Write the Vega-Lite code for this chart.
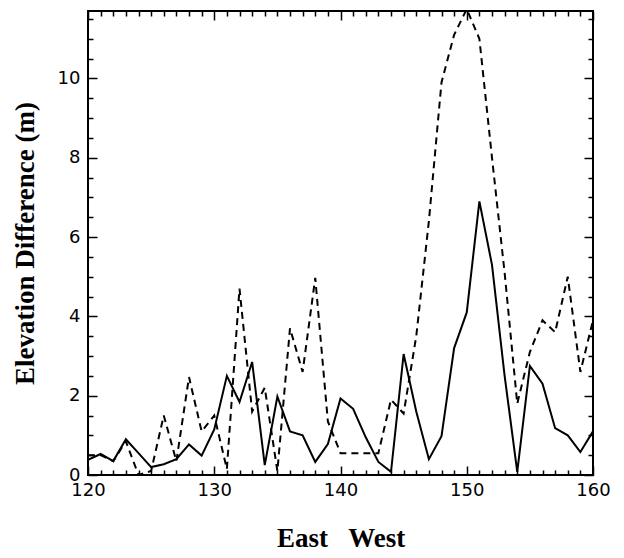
{
  "$schema": "https://vega.github.io/schema/vega-lite/v6.json",
  "width": 505,
  "height": 464,
  "autosize": {"type": "none"},
  "padding": {"left": 88, "top": 11, "right": 31, "bottom": 83},
  "background": "white",
  "config": {
    "view": {"stroke": "black", "strokeWidth": 2},
    "axis": {
      "domain": false,
      "grid": false,
      "ticks": true,
      "tickSize": 9,
      "offset": -9,
      "tickColor": "black",
      "tickOpacity": 1,
      "tickWidth": 1.5,
      "labelFont": "DejaVu Sans",
      "labelFontSize": 18,
      "labelColor": "black",
      "titleFont": "Liberation Serif",
      "titleFontWeight": "bold",
      "titleFontSize": 27,
      "titleColor": "black",
      "labelOverlap": false,
      "labelFlush": false
    }
  },
  "data": {
    "values": [
      {"x": 120, "y": 0.5, "series": "dashed"},
      {"x": 121, "y": 0.5, "series": "dashed"},
      {"x": 122, "y": 0.35, "series": "dashed"},
      {"x": 123, "y": 0.85, "series": "dashed"},
      {"x": 124, "y": 0.0, "series": "dashed"},
      {"x": 125, "y": 0.1, "series": "dashed"},
      {"x": 126, "y": 1.5, "series": "dashed"},
      {"x": 127, "y": 0.35, "series": "dashed"},
      {"x": 128, "y": 2.47, "series": "dashed"},
      {"x": 129, "y": 1.1, "series": "dashed"},
      {"x": 130, "y": 1.5, "series": "dashed"},
      {"x": 131, "y": 0.15, "series": "dashed"},
      {"x": 132, "y": 4.7, "series": "dashed"},
      {"x": 133, "y": 1.6, "series": "dashed"},
      {"x": 134, "y": 2.2, "series": "dashed"},
      {"x": 135, "y": 0.1, "series": "dashed"},
      {"x": 136, "y": 3.7, "series": "dashed"},
      {"x": 137, "y": 2.6, "series": "dashed"},
      {"x": 138, "y": 4.97, "series": "dashed"},
      {"x": 139, "y": 1.35, "series": "dashed"},
      {"x": 140, "y": 0.55, "series": "dashed"},
      {"x": 141, "y": 0.55, "series": "dashed"},
      {"x": 142, "y": 0.55, "series": "dashed"},
      {"x": 143, "y": 0.55, "series": "dashed"},
      {"x": 144, "y": 1.9, "series": "dashed"},
      {"x": 145, "y": 1.55, "series": "dashed"},
      {"x": 146, "y": 3.5, "series": "dashed"},
      {"x": 147, "y": 6.4, "series": "dashed"},
      {"x": 148, "y": 9.9, "series": "dashed"},
      {"x": 149, "y": 11.1, "series": "dashed"},
      {"x": 150, "y": 11.75, "series": "dashed"},
      {"x": 151, "y": 11.0, "series": "dashed"},
      {"x": 152, "y": 8.0, "series": "dashed"},
      {"x": 153, "y": 5.1, "series": "dashed"},
      {"x": 154, "y": 1.8, "series": "dashed"},
      {"x": 155, "y": 3.1, "series": "dashed"},
      {"x": 156, "y": 3.9, "series": "dashed"},
      {"x": 157, "y": 3.6, "series": "dashed"},
      {"x": 158, "y": 5.0, "series": "dashed"},
      {"x": 159, "y": 2.6, "series": "dashed"},
      {"x": 160, "y": 3.9, "series": "dashed"},
      {"x": 120, "y": 0.38, "series": "solid"},
      {"x": 121, "y": 0.53, "series": "solid"},
      {"x": 122, "y": 0.35, "series": "solid"},
      {"x": 123, "y": 0.9, "series": "solid"},
      {"x": 124, "y": 0.55, "series": "solid"},
      {"x": 125, "y": 0.2, "series": "solid"},
      {"x": 126, "y": 0.27, "series": "solid"},
      {"x": 127, "y": 0.4, "series": "solid"},
      {"x": 128, "y": 0.77, "series": "solid"},
      {"x": 129, "y": 0.49, "series": "solid"},
      {"x": 130, "y": 1.15, "series": "solid"},
      {"x": 131, "y": 2.5, "series": "solid"},
      {"x": 132, "y": 1.84, "series": "solid"},
      {"x": 133, "y": 2.85, "series": "solid"},
      {"x": 134, "y": 0.25, "series": "solid"},
      {"x": 135, "y": 1.98, "series": "solid"},
      {"x": 136, "y": 1.1, "series": "solid"},
      {"x": 137, "y": 1.0, "series": "solid"},
      {"x": 138, "y": 0.33, "series": "solid"},
      {"x": 139, "y": 0.78, "series": "solid"},
      {"x": 140, "y": 1.93, "series": "solid"},
      {"x": 141, "y": 1.67, "series": "solid"},
      {"x": 142, "y": 0.95, "series": "solid"},
      {"x": 143, "y": 0.33, "series": "solid"},
      {"x": 144, "y": 0.08, "series": "solid"},
      {"x": 145, "y": 3.05, "series": "solid"},
      {"x": 146, "y": 1.6, "series": "solid"},
      {"x": 147, "y": 0.4, "series": "solid"},
      {"x": 148, "y": 0.98, "series": "solid"},
      {"x": 149, "y": 3.2, "series": "solid"},
      {"x": 150, "y": 4.1, "series": "solid"},
      {"x": 151, "y": 6.9, "series": "solid"},
      {"x": 152, "y": 5.3, "series": "solid"},
      {"x": 153, "y": 2.5, "series": "solid"},
      {"x": 154, "y": 0.08, "series": "solid"},
      {"x": 155, "y": 2.75, "series": "solid"},
      {"x": 156, "y": 2.3, "series": "solid"},
      {"x": 157, "y": 1.18, "series": "solid"},
      {"x": 158, "y": 1.0, "series": "solid"},
      {"x": 159, "y": 0.58, "series": "solid"},
      {"x": 160, "y": 1.1, "series": "solid"}
    ]
  },
  "layer": [
    {
      "transform": [{"filter": "datum.series === 'dashed'"}],
      "mark": {"type": "line", "color": "black", "strokeWidth": 2, "strokeDash": [7, 5], "clip": true},
      "encoding": {
        "x": {
          "field": "x", "type": "quantitative",
          "scale": {"domain": [120, 160], "nice": false, "zero": false},
          "axis": {
            "orient": "bottom",
            "title": "East\u00a0\u00a0\u00a0West",
            "values": [120,121,122,123,124,125,126,127,128,129,130,131,132,133,134,135,136,137,138,139,140,141,142,143,144,145,146,147,148,149,150,151,152,153,154,155,156,157,158,159,160],
            "labelExpr": "datum.value % 10 === 0 ? format(datum.value, 'd') : ''",
            "tickDash": {"condition": {"test": "datum.value % 10 === 0", "value": [20, 1]}, "value": [0, 4, 5, 30]},
            "labelPadding": 6,
            "titlePadding": 26
          }
        },
        "y": {
          "field": "y", "type": "quantitative",
          "scale": {"domain": [0, 11.7], "nice": false},
          "axis": {
            "orient": "left",
            "title": "Elevation Difference (m)",
            "values": [0,0.5,1,1.5,2,2.5,3,3.5,4,4.5,5,5.5,6,6.5,7,7.5,8,8.5,9,9.5,10,10.5,11,11.5],
            "labelExpr": "datum.value % 2 === 0 ? format(datum.value, 'd') : ''",
            "tickDash": {"condition": {"test": "datum.value % 2 === 0", "value": [20, 1]}, "value": [0, 4, 5, 30]},
            "labelPadding": 8,
            "titlePadding": 18
          }
        }
      }
    },
    {
      "transform": [{"filter": "datum.series === 'solid'"}],
      "mark": {"type": "line", "color": "black", "strokeWidth": 2, "clip": true},
      "encoding": {
        "x": {
          "field": "x", "type": "quantitative",
          "axis": {
            "orient": "top",
            "title": null,
            "labels": false,
            "values": [120,121,122,123,124,125,126,127,128,129,130,131,132,133,134,135,136,137,138,139,140,141,142,143,144,145,146,147,148,149,150,151,152,153,154,155,156,157,158,159,160],
            "tickDash": {"condition": {"test": "datum.value % 10 === 0", "value": [20, 1]}, "value": [0, 4, 5, 30]}
          }
        },
        "y": {
          "field": "y", "type": "quantitative",
          "axis": {
            "orient": "right",
            "title": null,
            "labels": false,
            "values": [0,0.5,1,1.5,2,2.5,3,3.5,4,4.5,5,5.5,6,6.5,7,7.5,8,8.5,9,9.5,10,10.5,11,11.5],
            "tickDash": {"condition": {"test": "datum.value % 2 === 0", "value": [20, 1]}, "value": [0, 4, 5, 30]}
          }
        }
      }
    }
  ],
  "resolve": {"axis": {"x": "independent", "y": "independent"}}
}
